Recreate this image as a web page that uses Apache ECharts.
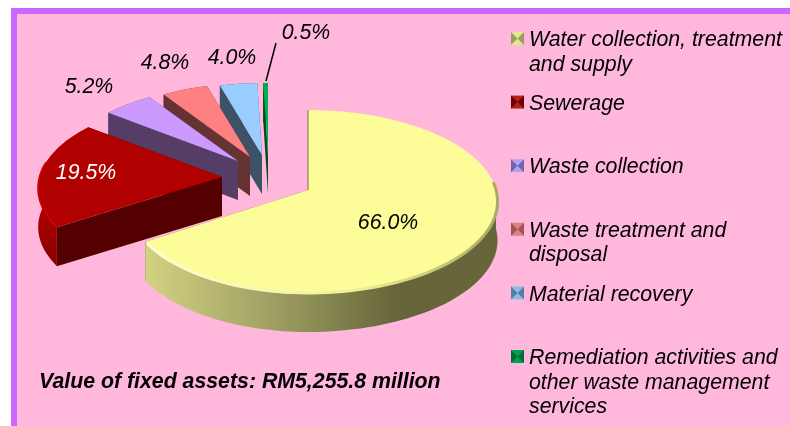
<!DOCTYPE html>
<html>
<head>
<meta charset="utf-8">
<style>
html,body{margin:0;padding:0;background:#fff}
#main{width:790px;height:426px}
</style>
<script src="https://cdn.jsdelivr.net/npm/echarts@6/dist/echarts.min.js"></script>
</head>
<body>
<div id="main"></div>
<script>
// slices, clockwise from 12 o'clock
var categories = [
    'Water collection, treatment\nand supply',
    'Sewerage',
    'Waste collection',
    'Waste treatment and\ndisposal',
    'Material recovery',
    'Remediation activities and\nother waste management\nservices'
];
var shares = [66.0, 19.5, 5.2, 4.8, 4.0, 0.5];
var shareLabels = ['66.0%', '19.5%', '5.2%', '4.8%', '4.0%', '0.5%'];
var note = 'Value of fixed assets: RM5,255.8 million';

// look of each slice
var topColors = ['#FCFC99', '#B00000', '#CC99FF', '#FF8080', '#99CCFF', '#00B050'];
var sideColors = ['#66663A', '#550000', '#553D66', '#663333', '#3D5266', '#004A22'];
var swatchDark = ['#9C9C62', '#700000', '#7563A8', '#A05454', '#5580A6', '#006B33'];
var swatchLight = ['#E6E68C', '#B02020', '#B8A0EE', '#E08080', '#8CBCE6', '#00A050'];

// pie layout: perspective disc, each slice pulled away from the centre
var cx = 308, cy = 190, rx = 188, ry = 90, persp = 0.126, depth = 39;
var pull = [[0, 0], [-86, -13], [-70, -29], [-58, -33], [-46, -35], [-40, -35]];
var scale = [1, 0.97, 0.94, 0.92, 0.9, 0.9];
var labelPos = [[388, 223], [86, 173], [89, 87], [165, 63], [232, 58], [306, 33]];

var startAngle = [];
var sum = 0;
for (var i = 0; i < shares.length; i++) {
    startAngle.push(sum * 3.6);
    sum += shares[i];
}

function project(i, deg, down) {
    var a = deg * Math.PI / 180;
    var u = Math.sin(a), v = Math.cos(a);
    var w = 1 + persp * v;
    // the big slice is a little narrower on its left side
    var wide = (i == 0 && u < 0) ? rx * 0.955 : rx;
    return [
        cx + pull[i][0] + wide * scale[i] * u / w,
        cy + pull[i][1] - ry * scale[i] * v / w + (down ? depth : 0)
    ];
}
function apex(i, down) {
    return [cx + pull[i][0], cy + pull[i][1] + (down ? depth : 0)];
}
function arc(i, from, to, down) {
    var pts = [];
    var n = Math.max(2, Math.ceil(Math.abs(to - from) / 2));
    for (var k = 0; k <= n; k++) {
        pts.push(project(i, from + (to - from) * k / n, down));
    }
    return pts;
}
function xGradient(x1, x2, stops) {
    return {type: 'linear', x: x1, y: 0, x2: x2, y2: 0, global: true, colorStops: stops};
}

function renderSlice(params, api) {
    var i = params.dataIndex;
    var a0 = startAngle[i];
    var a1 = a0 + api.value(0) * 3.6;
    var order = (shares.length - i) * 10;   // back slices are painted first
    var kids = [];

    // the hidden cut face, then the cut face that shows
    kids.push({type: 'polygon', z2: order, shape: {points: [apex(i), project(i, a1), project(i, a1, true), apex(i, true)]},
        style: {fill: sideColors[i]}});
    kids.push({type: 'polygon', z2: order + 1, shape: {points: [apex(i), project(i, a0), project(i, a0, true), apex(i, true)]},
        style: {fill: sideColors[i]}});

    // outer wall
    var rimFill = sideColors[i];
    if (i == 0) {
        rimFill = xGradient(146, 395, [{offset: 0, color: '#D2D282'}, {offset: 0.5, color: '#A0A064'}, {offset: 1, color: '#66663A'}]);
    } else if (i == 1) {
        rimFill = {type: 'linear', x: 0, y: 130, x2: 0, y2: 260, global: true, colorStops: [{offset: 0, color: '#E00000'}, {offset: 1, color: '#8C0000'}]};
    }
    var from = i == 0 ? 90 : a0;
    kids.push({type: 'polygon', z2: order + 2, shape: {points: arc(i, from, a1).concat(arc(i, a1, from, true))},
        style: {fill: rimFill}});

    // top face
    kids.push({type: 'polygon', z2: order + 3, shape: {points: [apex(i)].concat(arc(i, a0, a1))},
        style: {fill: topColors[i]}});

    // bevel along the front of the two big slices
    if (i == 0) {
        kids.push({type: 'polyline', z2: order + 4, shape: {points: arc(i, 85, a1 - 1)}, style: {fill: null, lineWidth: 3,
            stroke: xGradient(146, 498, [{offset: 0, color: '#FFFFD2'}, {offset: 0.6, color: '#F0F096'}, {offset: 1, color: '#A8A862'}])}});
        // the thin sliver at 12 o'clock
        kids.push({type: 'polyline', z2: order + 4, shape: {points: [project(i, 0), apex(i)]},
            style: {fill: null, stroke: '#70703F', lineWidth: 1}});
    } else if (i == 1) {
        kids.push({type: 'polyline', z2: order + 4, shape: {points: arc(i, a0, 280)}, style: {fill: null, stroke: '#D00000', lineWidth: 2}});
    }
    return {type: 'group', children: kids};
}

var frame = [
    {type: 'rect', z: -2, shape: {x: 11, y: 8, width: 779, height: 418}, style: {fill: '#CC66FF'}},
    {type: 'rect', z: -1, shape: {x: 17, y: 14, width: 773, height: 412}, style: {fill: '#FFB7DB'}},
    {type: 'line', z: 100, shape: {x1: 276, y1: 43, x2: 266, y2: 81}, style: {stroke: '#000', lineWidth: 1.5}},
    {type: 'text', z: 100, x: 39, y: 382, style: {text: note, fill: '#000', verticalAlign: 'middle',
        font: 'italic bold 21.3px "Liberation Sans"'}}
];

// value labels
shareLabels.forEach(function (t, i) {
    frame.push({type: 'text', z: 100, x: labelPos[i][0], y: labelPos[i][1], style: {
        text: t, fill: i == 1 ? '#fff' : '#000', align: 'center', verticalAlign: 'middle',
        font: 'italic 21.3px "Liberation Sans"'}});
});

// key: bevelled square and wrapped text
categories.forEach(function (t, i) {
    var x = 511, y = 32 + i * 63.6, s = 13;
    frame.push({type: 'rect', z: 100, shape: {x: x, y: y, width: s, height: s}, style: {fill: swatchLight[i]}});
    frame.push({type: 'polygon', z: 100, shape: {points: [[x, y], [x + s / 2, y + s / 2], [x, y + s]]}, style: {fill: swatchDark[i]}});
    frame.push({type: 'polygon', z: 100, shape: {points: [[x + s, y], [x + s / 2, y + s / 2], [x + s, y + s]]}, style: {fill: swatchDark[i]}});
    frame.push({type: 'text', z: 100, x: 529, y: y - 4, style: {text: t, fill: '#000', lineHeight: 24.5,
        font: 'italic 21.3px "Liberation Sans"'}});
});

var myChart = echarts.init(document.getElementById('main'));
myChart.setOption({
    animation: false,
    backgroundColor: '#fff',
    graphic: {elements: frame},
    series: [{
        type: 'custom',
        coordinateSystem: 'none',
        renderItem: renderSlice,
        data: shares.map(function (v) { return [v]; }),
        silent: true
    }]
});
</script>
</body>
</html>
